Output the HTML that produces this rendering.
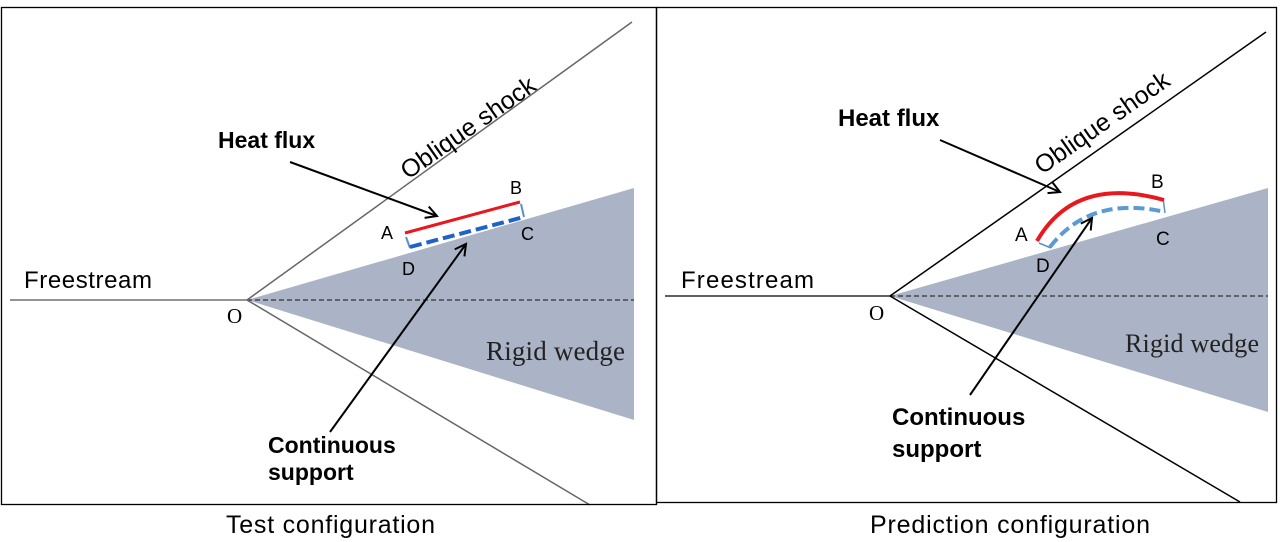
<!DOCTYPE html>
<html><head><meta charset="utf-8"><style>
html,body{margin:0;padding:0;background:#fff;width:1280px;height:542px;overflow:hidden}
svg{display:block}
text{font-family:"Liberation Sans",Arial,sans-serif}
.serif{font-family:"Liberation Serif",serif}
</style></head><body>
<svg width="1280" height="542" viewBox="0 0 1280 542" xmlns="http://www.w3.org/2000/svg">
<defs>
<marker id="ah" markerWidth="14" markerHeight="14" refX="12" refY="7" orient="auto" markerUnits="userSpaceOnUse">
<path d="M1,1 L12,7 L1,13" fill="none" stroke="#000" stroke-width="2"/>
</marker>
</defs>
<!-- LEFT PANEL -->
<polygon points="247,300 634,188 634,420" fill="#abb3c6"/>
<line x1="247" y1="300" x2="634" y2="300" stroke="#333" stroke-width="1.3" stroke-dasharray="5,3"/>
<line x1="10" y1="300" x2="247" y2="300" stroke="#555" stroke-width="1.3"/>
<line x1="247" y1="300" x2="632" y2="22" stroke="#666" stroke-width="1.5"/>
<line x1="247" y1="300" x2="590" y2="505" stroke="#666" stroke-width="1.5"/>
<rect x="1.5" y="7.5" width="655" height="497" fill="none" stroke="#000" stroke-width="1.3"/>
<text x="24" y="288" font-size="24" textLength="128">Freestream</text>
<text x="227" y="323" font-size="21" class="serif">O</text>
<text x="486" y="360" font-size="27" class="serif" fill="#222" textLength="139">Rigid wedge</text>
<text x="408" y="180" font-size="25" transform="rotate(-35 408 180)">Oblique shock</text>
<text x="218" y="148" font-size="23" font-weight="bold">Heat flux</text>
<text x="268" y="453" font-size="23" font-weight="bold">Continuous</text>
<text x="268" y="480" font-size="23" font-weight="bold">support</text>
<line x1="290" y1="162" x2="437" y2="216" stroke="#000" stroke-width="2" marker-end="url(#ah)"/>
<line x1="330" y1="432" x2="466" y2="244" stroke="#000" stroke-width="2" marker-end="url(#ah)"/>
<path d="M406,237 L410,248 M521,204 L524,217" stroke="#5b8fcf" stroke-width="2"/>
<line x1="410" y1="247" x2="524" y2="217" stroke="#1f63c8" stroke-width="4" stroke-dasharray="12,5"/>
<line x1="405" y1="233" x2="520" y2="202" stroke="#e8191e" stroke-width="3"/>
<text x="381" y="239" font-size="18">A</text>
<text x="510" y="194" font-size="18">B</text>
<text x="521" y="240" font-size="18">C</text>
<text x="402" y="275" font-size="18">D</text>
<text x="226" y="533" font-size="25" textLength="209">Test configuration</text>
<!-- RIGHT PANEL -->
<polygon points="890,296 1268,188 1268,412" fill="#abb3c6"/>
<line x1="890" y1="296" x2="1268" y2="296" stroke="#333" stroke-width="1.3" stroke-dasharray="5,3"/>
<line x1="665" y1="296" x2="890" y2="296" stroke="#000" stroke-width="1.3"/>
<line x1="890" y1="296" x2="1266" y2="32" stroke="#000" stroke-width="1.5"/>
<line x1="890" y1="296" x2="1240" y2="502" stroke="#000" stroke-width="1.5"/>
<rect x="656.5" y="7.5" width="620" height="495" fill="none" stroke="#000" stroke-width="1.3"/>
<text x="681" y="288" font-size="24" textLength="133">Freestream</text>
<text x="869" y="320" font-size="21" class="serif">O</text>
<text x="1125" y="352" font-size="26" class="serif" fill="#222" textLength="134">Rigid wedge</text>
<text x="1042" y="175" font-size="25" transform="rotate(-35 1042 175)">Oblique shock</text>
<text x="838" y="126" font-size="24" font-weight="bold">Heat flux</text>
<text x="892" y="425" font-size="24" font-weight="bold">Continuous</text>
<text x="892" y="457" font-size="24" font-weight="bold">support</text>
<line x1="940" y1="140" x2="1060" y2="192" stroke="#000" stroke-width="2" marker-end="url(#ah)"/>
<line x1="970" y1="395" x2="1092" y2="218" stroke="#000" stroke-width="2" marker-end="url(#ah)"/>
<path d="M1039,243 L1051,248 M1163,198 L1165,213" stroke="#5b8fcf" stroke-width="1.5"/>
<path d="M1050,247 Q1090,195 1165,212" fill="none" stroke="#5b9bd5" stroke-width="4" stroke-dasharray="11,5"/>
<path d="M1037,241 Q1075,175 1164,200" fill="none" stroke="#e8191e" stroke-width="4"/>
<text x="1015" y="241" font-size="19">A</text>
<text x="1151" y="188" font-size="19">B</text>
<text x="1156" y="245" font-size="19">C</text>
<text x="1036" y="272" font-size="19">D</text>
<text x="870" y="533" font-size="25" textLength="280">Prediction configuration</text>
</svg>
</body></html>
